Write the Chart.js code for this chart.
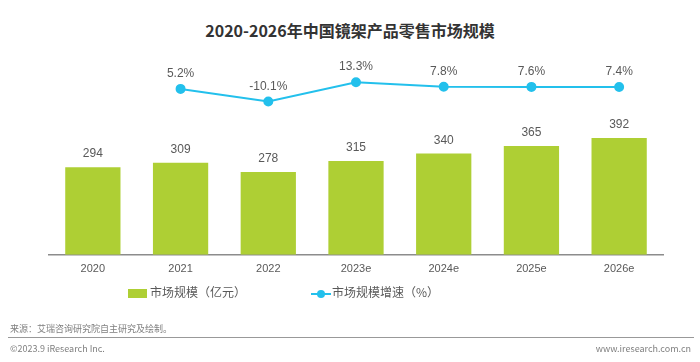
<!DOCTYPE html>
<html>
<head>
<meta charset="utf-8">
<script src="https://cdn.jsdelivr.net/npm/chart.js@4"></script>
<style>
  body { margin: 0; background: #fff; font-family: 'Liberation Sans', 'Noto Sans CJK SC', sans-serif; }
  #wrap { position: relative; width: 700px; height: 362px; overflow: hidden; }
  #graph { position: absolute; left: 0; top: 0; }
  .title { position: absolute; left: 0; width: 700px; top: 18px; text-align: center; font-size: 16px; font-weight: bold; color: #333; font-family: 'Noto Sans CJK SC', sans-serif; }
  .legend { position: absolute; top: 283px; font-size: 12px; color: #595959; font-family: 'Noto Sans CJK SC', sans-serif; }
  .note { position: absolute; font-size: 9px; color: #7f7f7f; font-family: 'Noto Sans CJK SC', sans-serif; }
  .rule { position: absolute; left: 8px; width: 686px; top: 337px; height: 1px; background: #999; }
</style>
</head>
<body>
<div id="wrap">
  <div class="title">2020-2026年中国镜架产品零售市场规模</div>
  <canvas id="graph" width="700" height="362"></canvas>
  <div class="legend" style="left:128px">
    <span style="display:inline-block;width:19px;height:9px;background:#aecf34;vertical-align:middle;margin-right:3px"></span>市场规模（亿元）
  </div>
  <div class="legend" style="left:311px">
    <span style="display:inline-block;position:relative;width:20px;height:9px;vertical-align:middle;margin-right:1px">
      <span style="position:absolute;left:0;top:4px;width:20px;height:2px;background:#23c0ec"></span>
      <span style="position:absolute;left:6px;top:1px;width:8px;height:8px;border-radius:50%;background:#23c0ec"></span>
    </span>市场规模增速（%）
  </div>
  <div class="note" style="left:10px;top:322px">来源：艾瑞咨询研究院自主研究及绘制。</div>
  <div class="rule"></div>
  <div class="note" style="left:10px;top:342px">©2023.9 iResearch Inc.</div>
  <div class="note" style="right:9px;top:342px">www.iresearch.com.cn</div>
</div>
<script>
const years = ['2020', '2021', '2022', '2023e', '2024e', '2025e', '2026e'];
const marketSize = [294, 309, 278, 315, 340, 365, 392];
const growthRate = [null, 5.2, -10.1, 13.3, 7.8, 7.6, 7.4];

// writes the value above each bar / point
const valueLabels = {
  id: 'valueLabels',
  afterDatasetsDraw(chart) {
    const ctx = chart.ctx;
    ctx.save();
    ctx.font = '12px "Liberation Sans", sans-serif';
    ctx.fillStyle = '#595959';
    ctx.textAlign = 'center';
    ctx.textBaseline = 'bottom';
    chart.data.datasets.forEach((ds, i) => {
      chart.getDatasetMeta(i).data.forEach((el, j) => {
        const v = ds.data[j];
        if (v === null) return;
        const text = ds.type === 'line' ? v.toFixed(1) + '%' : String(v);
        const gap = ds.type === 'line' ? 9 : 7;
        ctx.fillText(text, el.x, el.y - gap);
      });
    });
    ctx.restore();
  }
};

const ctx = document.getElementById('graph').getContext('2d');
new Chart(ctx, {
  data: {
    labels: years,
    datasets: [
      {
        type: 'line',
        label: '市场规模增速（%）',
        data: growthRate,
        yAxisID: 'y2',
        borderColor: '#23c0ec',
        backgroundColor: '#23c0ec',
        borderWidth: 2,
        pointRadius: 4,
        pointHoverRadius: 4,
        spanGaps: false,
        tension: 0,
      },
      {
        type: 'bar',
        label: '市场规模（亿元）',
        data: marketSize,
        yAxisID: 'y',
        backgroundColor: '#aecf34',
        categoryPercentage: 1,
        barPercentage: 0.63,
      },
    ],
  },
  options: {
    responsive: false,
    animation: false,
    layout: { padding: { left: 49, right: 37, top: 70, bottom: 78 } },
    plugins: { legend: { display: false }, tooltip: { enabled: false } },
    scales: {
      x: {
        grid: { display: false, drawTicks: false },
        border: { color: '#8c8c8c', width: 1.5 },
        ticks: { color: '#595959', font: { size: 11, family: '"Liberation Sans", sans-serif' }, padding: 8 },
      },
      y: { display: false, min: 0, max: 620 },
      y2: { display: false, min: -195, max: 28 },
    },
  },
  plugins: [valueLabels],
});
</script>
</body>
</html>
